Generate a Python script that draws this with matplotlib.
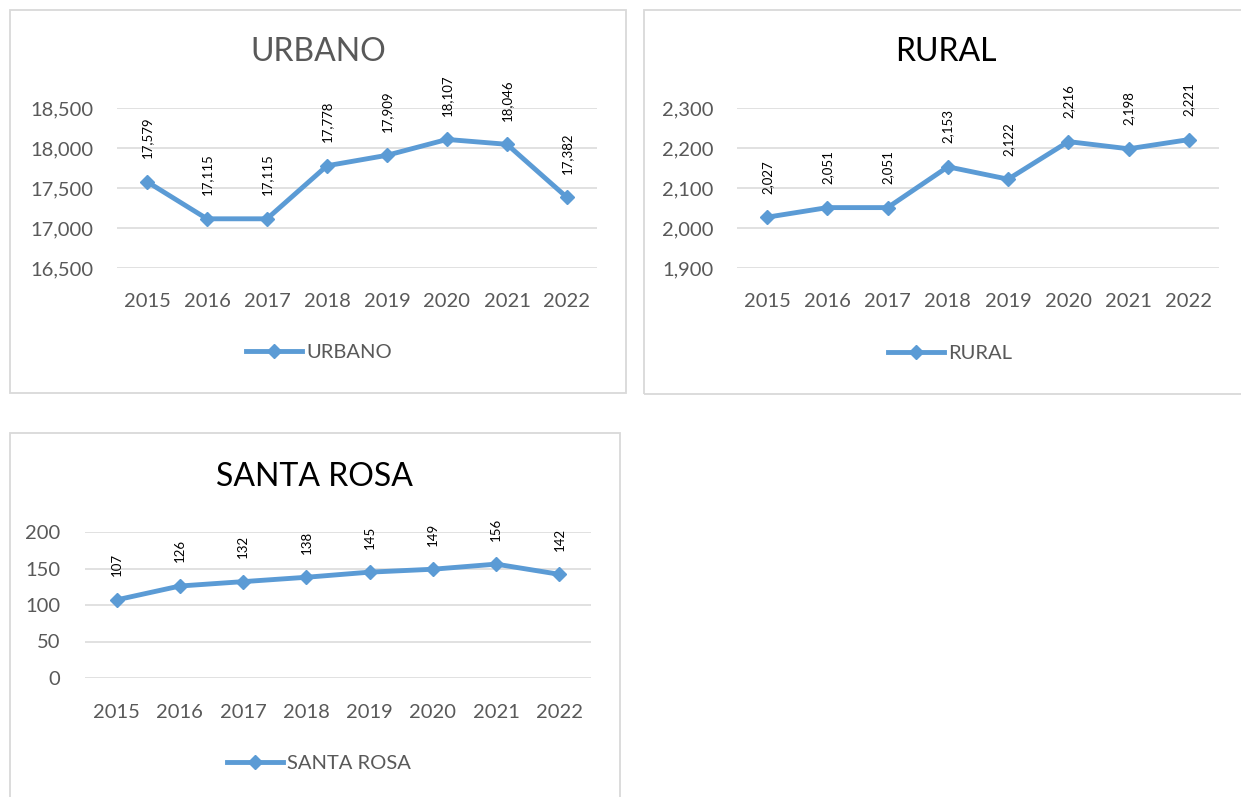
import matplotlib
matplotlib.use("Agg")
import matplotlib.pyplot as plt
from matplotlib.patches import Rectangle
from matplotlib.lines import Line2D
from matplotlib.ticker import FuncFormatter

years = ["2015", "2016", "2017", "2018", "2019", "2020", "2021", "2022"]
urbano = [17579, 17115, 17115, 17778, 17909, 18107, 18046, 17382]
rural = [2027, 2051, 2051, 2153, 2122, 2216, 2198, 2221]
santa_rosa = [107, 126, 132, 138, 145, 149, 156, 142]

urbano_ticks = [16500, 17000, 17500, 18000, 18500]
rural_ticks = [1900, 2000, 2100, 2200, 2300]
santa_ticks = [0, 50, 100, 150, 200]

W, H = 1241, 797
FONT = "Lato"
BLUE = "#5B9BD5"
GRID = "#D9D9D9"
TICKC = "#595959"

fig = plt.figure(figsize=(W / 100, H / 100), dpi=100)
fig.patch.set_facecolor("white")


def px_rect(x0, y0, x1, y1):
    return [x0 / W, 1 - y1 / H, (x1 - x0) / W, (y1 - y0) / H]


def border(x0, y0, x1, y1):
    r = Rectangle((x0 / W, 1 - y1 / H), (x1 - x0) / W, (y1 - y0) / H,
                  transform=fig.transFigure, fill=False, edgecolor=GRID,
                  linewidth=1.3, zorder=0)
    fig.add_artist(r)


border(10, 10, 626, 393)
border(644, 10, 1250, 394)
border(10, 433, 620, 805)

comma = FuncFormatter(lambda v, p: f"{int(v):,}")


def panel(rect, values, ticks, title, title_color, title_xy, legend_xy, ypad, xpad):
    ax = fig.add_axes(px_rect(*rect))
    x = list(range(len(years)))
    ax.plot(x, values, color=BLUE, linewidth=3.5, marker="D", markersize=7,
            markerfacecolor=BLUE, markeredgecolor=BLUE, zorder=3,
            solid_joinstyle="round", clip_on=False)
    ax.set_xlim(-0.5, len(years) - 0.5)
    ax.set_ylim(ticks[0], ticks[-1])
    ax.set_yticks(ticks)
    ax.yaxis.set_major_formatter(comma)
    ax.set_xticks(x)
    ax.set_xticklabels(years)
    for s in ax.spines.values():
        s.set_visible(False)
    ax.tick_params(axis="both", length=0, labelsize=14.5, labelcolor=TICKC)
    ax.tick_params(axis="y", pad=ypad)
    ax.tick_params(axis="x", pad=xpad)
    for lab in ax.get_xticklabels() + ax.get_yticklabels():
        lab.set_fontfamily(FONT)
    ax.grid(axis="y", color=GRID, linewidth=1.1)
    ax.set_axisbelow(True)
    for xi, v in zip(x, values):
        ax.annotate(f"{v:,}", (xi, v), xytext=(0, 17), textcoords="offset points",
                    rotation=90, ha="center", va="bottom", fontsize=9.5,
                    fontfamily=FONT, color="#000000", annotation_clip=False)
    fig.text(title_xy[0] / W, 1 - title_xy[1] / H, title, ha="center", va="center",
             fontsize=23, fontfamily=FONT, color=title_color)
    h = Line2D([], [], color=BLUE, linewidth=3.5, marker="D", markersize=7)
    leg = ax.legend([h], [title], loc="center",
                    bbox_to_anchor=(legend_xy[0] / W, 1 - legend_xy[1] / H),
                    bbox_transform=fig.transFigure, frameon=False,
                    handlelength=2.8, handletextpad=0.2,
                    prop={"family": FONT, "size": 14.5})
    for t in leg.get_texts():
        t.set_color(TICKC)
    return ax


panel((117, 108, 597, 268), urbano, urbano_ticks, "URBANO", "#595959",
      (318, 52), (319, 352), 17, 18)
panel((737, 108, 1219, 268), rural, rural_ticks, "RURAL", "#000000",
      (946, 52), (950, 353), 17, 18)
panel((85, 532, 591, 678), santa_rosa, santa_ticks, "SANTA ROSA", "#000000",
      (314, 477), (319, 763), 18, 19)

fig.savefig("out.png", dpi=100, facecolor="white")
